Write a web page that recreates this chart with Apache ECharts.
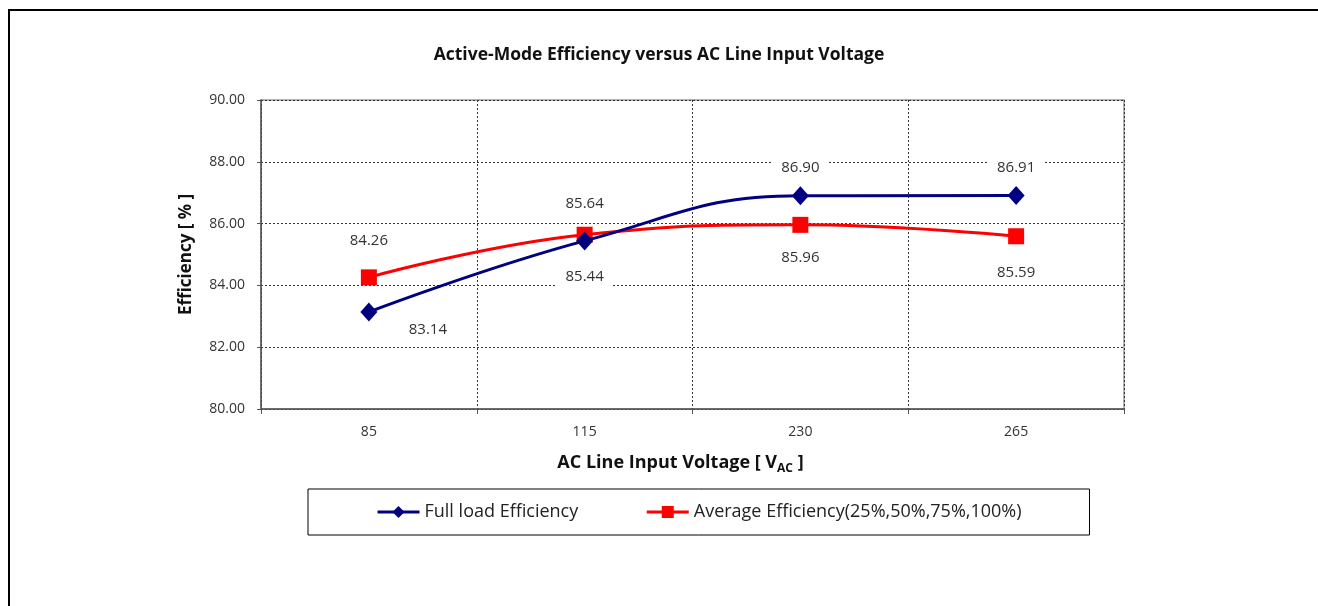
<!DOCTYPE html>
<html>
<head>
    <meta charset="utf-8" />
    <script src="https://cdn.jsdelivr.net/npm/echarts@6/dist/echarts.min.js"></script>
    <style type="text/css">
    body {
        margin: 0;
        background-color: #fff;
    }
    #chart1 {
        width: 1318px;
        height: 606px;
    }
    </style>
</head>
<body>
    <div id="chart1"></div>
    <script type="text/javascript">
    // data
    let voltages = ['85', '115', '230', '265'];
    let fullLoad = [83.14, 85.44, 86.90, 86.91];
    let average = [84.26, 85.64, 85.96, 85.59];
    let yTicks = [80, 82, 84, 86, 88, 90];

    // where each value label sits, relative to its point
    let fullOffsets = [[59, 18], [0, 36], [0, -28], [0, -28]];
    let avgOffsets = [[0, -37], [0, -31], [0, 33], [0, 36]];

    let fontName = '"Open Sans", "Noto Sans", sans-serif';

    function withLabels(values, offsets) {
        return values.map(function (v, i) {
            return {
                value: v,
                label: { offset: offsets[i] }
            };
        });
    }

    let labelStyle = {
        show: true,
        position: 'inside',
        fontFamily: fontName,
        fontSize: 15,
        color: '#333',
        backgroundColor: '#fff',
        padding: [3, 9],
        formatter: function (p) {
            return p.value.toFixed(2);
        }
    };

    let opt = {
        animation: false,
        textStyle: { fontFamily: fontName },
        title: {
            text: 'Active-Mode Efficiency versus AC Line Input Voltage',
            left: 'center',
            top: 41,
            textStyle: {
                fontSize: 17.5,
                fontWeight: 'bold',
                color: '#111',
                fontFamily: fontName
            }
        },
        graphic: [{
            type: 'rect',
            shape: { x: 9, y: 10, width: 1400, height: 700 },
            style: { fill: 'none', stroke: '#000', lineWidth: 2 },
            silent: true
        }],
        grid: {
            left: 261,
            right: 194,
            top: 100,
            bottom: 197,
            show: true,
            borderColor: '#999',
            borderWidth: 1.5
        },
        legend: {
            left: 308,
            top: 489,
            padding: [14, 68, 14, 68],
            borderColor: '#000',
            borderWidth: 1,
            itemGap: 67,
            itemWidth: 42,
            itemHeight: 15,
            lineStyle: { width: 3 },
            textStyle: {
                fontFamily: fontName,
                fontSize: 18,
                color: '#222'
            },
            data: ['Full load Efficiency', 'Average Efficiency(25%,50%,75%,100%)']
        },
        xAxis: {
            type: 'category',
            data: voltages,
            boundaryGap: true,
            name: '{b|AC Line Input Voltage [ V}{s|AC}{b| ]}',
            nameLocation: 'middle',
            nameGap: 45,
            nameTextStyle: {
                padding: [0, 24, 0, 0],
                rich: {
                    b: { fontSize: 18, fontWeight: 'bold', color: '#111', fontFamily: fontName },
                    s: { fontSize: 12, fontWeight: 'bold', color: '#111', fontFamily: fontName, lineHeight: 12, padding: [11, 0, 0, 0] }
                }
            },
            axisLine: { lineStyle: { color: '#555', width: 1.5 } },
            axisTick: { show: true, length: 5, lineStyle: { color: '#555' } },
            axisLabel: { fontSize: 14, color: '#333', margin: 16, fontFamily: fontName },
            splitLine: {
                show: true,
                lineStyle: { color: '#333', type: [2, 2], width: 1 }
            }
        },
        yAxis: {
            type: 'value',
            min: yTicks[0],
            max: yTicks[yTicks.length - 1],
            interval: 2,
            name: 'Efficiency [ % ]',
            nameLocation: 'middle',
            nameGap: 66,
            nameTextStyle: { fontSize: 17, fontWeight: 'bold', color: '#111', fontFamily: fontName },
            axisLine: { show: true, lineStyle: { color: '#555', width: 1.5 } },
            axisTick: { show: true, length: 4, lineStyle: { color: '#555' } },
            axisLabel: {
                fontSize: 14,
                color: '#333',
                margin: 16,
                fontFamily: fontName,
                formatter: function (v) { return v.toFixed(2); }
            },
            splitLine: {
                show: true,
                lineStyle: { color: '#333', type: [2, 2], width: 1 }
            }
        },
        series: [{
            name: 'Full load Efficiency',
            type: 'line',
            data: withLabels(fullLoad, fullOffsets),
            smooth: 0.45,
            symbol: 'diamond',
            symbolSize: [17, 19],
            lineStyle: { color: '#000080', width: 3 },
            itemStyle: { color: '#000080' },
            label: labelStyle,
            z: 3
        }, {
            name: 'Average Efficiency(25%,50%,75%,100%)',
            type: 'line',
            data: withLabels(average, avgOffsets),
            smooth: 0.45,
            symbol: 'rect',
            symbolSize: 16,
            lineStyle: { color: '#ff0000', width: 3 },
            itemStyle: { color: '#ff0000' },
            label: labelStyle,
            z: 2
        }]
    };

    let chart = echarts.init(document.getElementById('chart1'));
    chart.setOption(opt);
    </script>
</body>
</html>
